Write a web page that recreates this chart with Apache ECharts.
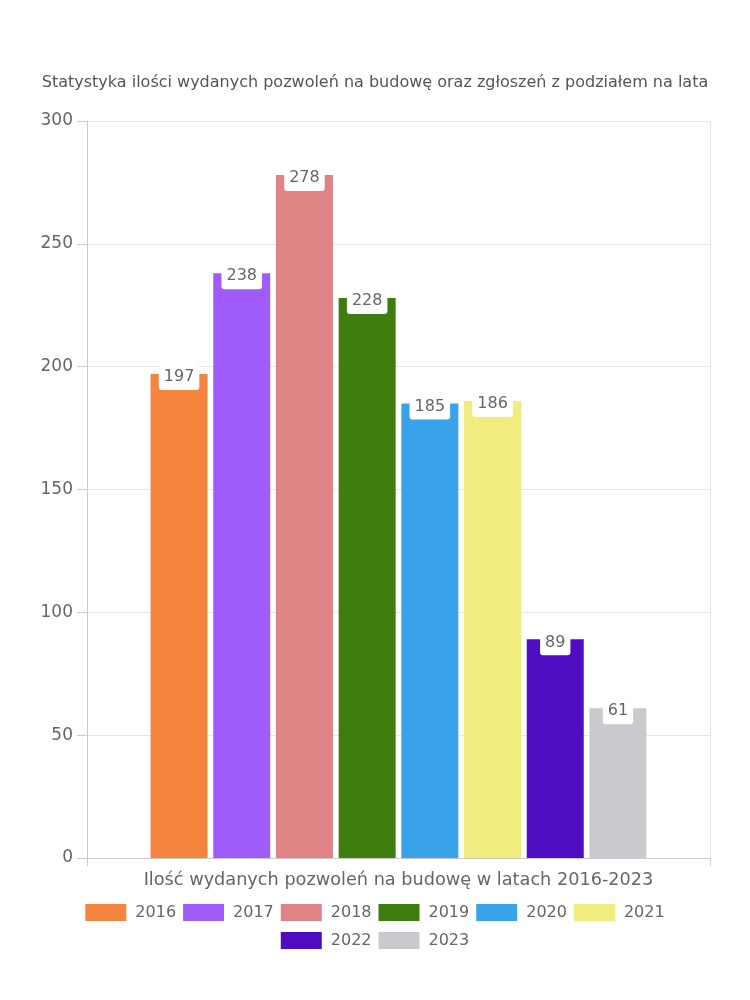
<!DOCTYPE html>
<html><head><meta charset="utf-8">
<script src="https://cdn.jsdelivr.net/npm/echarts@6/dist/echarts.min.js"></script>
<style>html,body{margin:0;padding:0;background:#fff}#c{width:750px;height:1000px}</style>
</head><body><div id="c"></div>
<script>
const titleText = 'Statystyka ilości wydanych pozwoleń na budowę oraz zgłoszeń z podziałem na lata';
const categories = ['Ilość wydanych pozwoleń na budowę w latach 2016-2023'];
const seriesNames = ['2016','2017','2018','2019','2020','2021','2022','2023'];
const seriesValues = [197, 238, 278, 228, 185, 186, 89, 61];
const seriesColors = ['#F5843F','#A05CFB','#E08385','#3F7D0E','#38A3EA','#F0EC7E','#500CC0','#C9CACE'];
const yTicks = {min: 0, max: 300, interval: 50};
const legendRow1 = seriesNames.slice(0, 6);
const legendRow2 = seriesNames.slice(6);

const FONT = 'DejaVu Sans';
const legendCommon = {
  left: 'center', itemWidth: 41, itemHeight: 17, itemGap: 7, icon: 'rect',
  textStyle: {fontFamily: FONT, fontSize: 16, color: '#666', padding: [0, 0, 0, 4]}
};
const chart = echarts.init(document.getElementById('c'), null, {renderer: 'canvas'});
chart.setOption({
  animation: false,
  textStyle: {fontFamily: FONT},
  title: {
    text: titleText, left: 'center', top: 70,
    textStyle: {fontFamily: FONT, fontSize: 16, fontWeight: 'normal', color: '#555'}
  },
  legend: [
    Object.assign({top: 899, data: legendRow1}, legendCommon),
    Object.assign({top: 927, data: legendRow2}, legendCommon)
  ],
  grid: {left: 87, right: 40, top: 121, bottom: 142, containLabel: false},
  xAxis: {
    type: 'category', data: categories,
    axisLine: {show: true, lineStyle: {color: '#ccc'}},
    axisTick: {show: true, length: 8, lineStyle: {color: '#ccc'}},
    splitLine: {show: true, lineStyle: {color: '#e6e6e6'}},
    axisLabel: {fontFamily: FONT, fontSize: 17.7, color: '#666', margin: 13}
  },
  yAxis: {
    type: 'value', min: yTicks.min, max: yTicks.max, interval: yTicks.interval,
    axisLine: {show: true, lineStyle: {color: '#ccc'}},
    axisTick: {show: true, length: 10, lineStyle: {color: '#ccc'}},
    splitLine: {show: true, lineStyle: {color: '#e6e6e6'}},
    axisLabel: {fontFamily: FONT, fontSize: 17, color: '#666', margin: 14}
  },
  series: seriesNames.map((n, i) => ({
    name: n, type: 'bar', data: [seriesValues[i]],
    barWidth: 57, barGap: '10%',
    itemStyle: {color: seriesColors[i]},
    label: {
      show: true, position: 'insideTop', distance: 0, offset: [0, -9],
      backgroundColor: '#fff', borderRadius: 3, padding: [4, 5, 5, 5],
      fontFamily: FONT, fontSize: 16, color: '#666'
    }
  }))
});
</script></body></html>
